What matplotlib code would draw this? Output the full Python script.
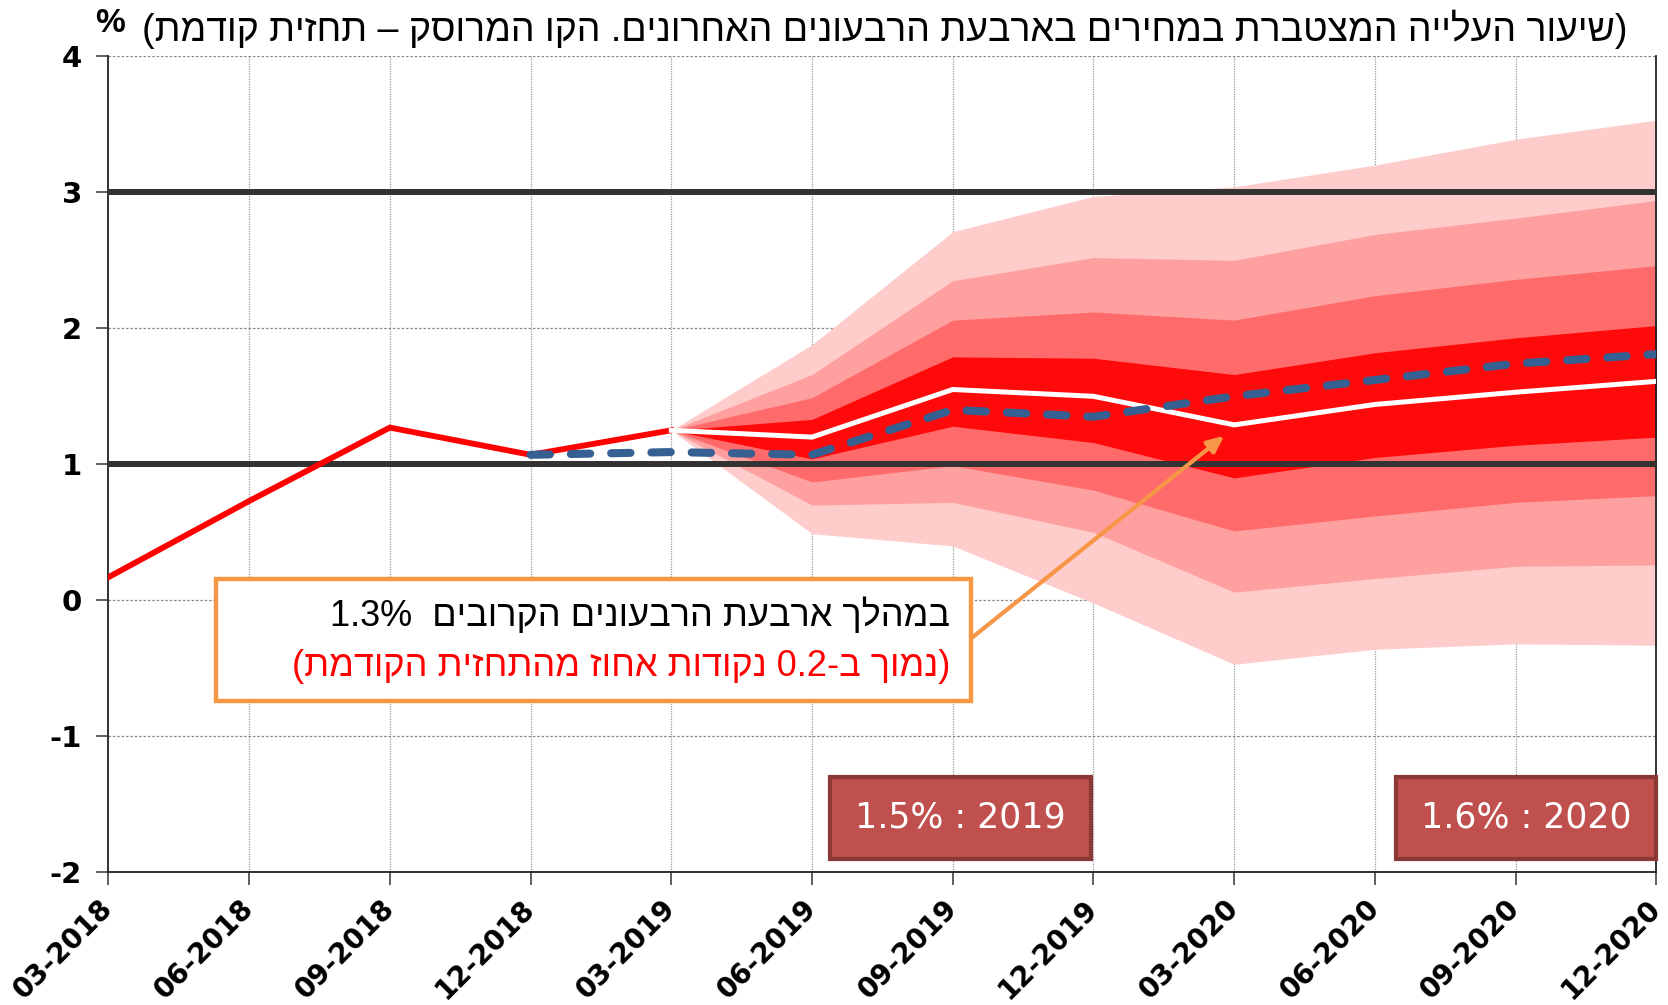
import re
import matplotlib
matplotlib.use("Agg")
import matplotlib.pyplot as plt
from matplotlib.patches import Rectangle

plt.rcParams["font.family"] = ["Liberation Sans", "DejaVu Sans"]

# ---------------------------------------------------------------------------
# data
# ---------------------------------------------------------------------------
quarters = ["03-2018", "06-2018", "09-2018", "12-2018", "03-2019", "06-2019",
            "09-2019", "12-2019", "03-2020", "06-2020", "09-2020", "12-2020"]

actual = [0.17, 0.73, 1.27, 1.07, 1.25]                             # 03-2018 .. 03-2019
forecast = [1.25, 1.20, 1.55, 1.50, 1.29, 1.44, 1.53, 1.61]         # 03-2019 .. 12-2020
previous = [1.07, 1.09, 1.07, 1.40, 1.35, 1.50, 1.62, 1.74, 1.81]  # 12-2018 .. 12-2020

# fan bands, 03-2019 .. 12-2020 (outer -> inner)
outer_up = [1.25, 1.88, 2.71, 2.97, 3.04, 3.20, 3.39, 3.53]
outer_lo = [1.25, 0.49, 0.40, -0.02, -0.47, -0.36, -0.32, -0.33]
mid_up = [1.25, 1.66, 2.35, 2.52, 2.50, 2.69, 2.81, 2.94]
mid_lo = [1.25, 0.70, 0.72, 0.50, 0.06, 0.16, 0.25, 0.26]
third_up = [1.25, 1.49, 2.06, 2.12, 2.06, 2.24, 2.36, 2.46]
third_lo = [1.25, 0.87, 0.99, 0.81, 0.51, 0.62, 0.72, 0.77]
inner_up = [1.25, 1.33, 1.79, 1.78, 1.66, 1.82, 1.93, 2.02]
inner_lo = [1.25, 1.04, 1.28, 1.16, 0.90, 1.05, 1.14, 1.20]

target_lines = [1, 3]
yticks = [-2, -1, 0, 1, 2, 3, 4]

title = "(שיעור העלייה המצטברת במחירים בארבעת הרבעונים האחרונים. הקו המרוסק – תחזית קודמת)"
note1 = "במהלך ארבעת הרבעונים הקרובים  1.3%"
note2 = "(נמוך ב-0.2 נקודות אחוז מהתחזית הקודמת)"
box_labels = ["1.5% : 2019", "1.6% : 2020"]


def rtl(s):
    # crude visual ordering for hebrew: reverse, keep number runs, mirror parens
    r = s[::-1]
    r = re.sub(r"[0-9.%]+", lambda m: m.group(0)[::-1] if any(c.isdigit() for c in m.group(0)) else m.group(0), r)
    return r.translate(str.maketrans("()", ")("))


x_all = list(range(len(quarters)))
x_act = x_all[:5]
x_fc = x_all[4:]
x_prev = x_all[3:]

# ---------------------------------------------------------------------------
# plot
# ---------------------------------------------------------------------------
fig = plt.figure(figsize=(16.68, 10.05), dpi=100)
ax = fig.add_axes([0.065, 0.132, 0.928, 0.812])

ax.set_xlim(0, 11)
ax.set_ylim(-2, 4)

for x in x_all[1:]:
    ax.axvline(x, color="#999999", lw=0.9, ls=(0, (1, 1)), zorder=0)
for y in yticks:
    if y not in target_lines:
        ax.axhline(y, color="#888888", lw=0.9, ls=(0, (2, 1.5)), zorder=0)

ax.fill_between(x_fc, outer_lo, outer_up, color="#FFCCCC", lw=0, zorder=1)
ax.fill_between(x_fc, mid_lo, mid_up, color="#FFA0A0", lw=0, zorder=1)
ax.fill_between(x_fc, third_lo, third_up, color="#FF6B6B", lw=0, zorder=1)
ax.fill_between(x_fc, inner_lo, inner_up, color="#FF0A0A", lw=0, zorder=1)

for y in target_lines:
    ax.axhline(y, color="#333333", lw=4.3, zorder=3)

ax.plot(x_act, actual, color="#FF0000", lw=4.2, zorder=4, solid_joinstyle="miter")
ax.plot(x_fc, forecast, color="white", lw=3.6, zorder=5, solid_joinstyle="miter")
ax.plot(x_prev, previous, color="#366092", lw=5.8, ls=(0, (2.4, 2.6)),
        dash_capstyle="round", zorder=6)

ax.set_xticks(x_all)
ax.set_xticklabels(quarters, rotation=45, ha="right", va="center", rotation_mode="anchor",
                   fontsize=20, fontweight="bold", family="DejaVu Sans")
ax.set_yticks(yticks)
ax.set_yticklabels([str(v) for v in yticks], fontsize=21, fontweight="bold",
                   family="DejaVu Sans")
ax.tick_params(axis="both", direction="out", length=9, width=1.2, color="#444444")
ax.tick_params(axis="x", pad=14)
ax.tick_params(axis="y", pad=10)

ax.spines["top"].set_visible(False)
for s in ["left", "bottom", "right"]:
    ax.spines[s].set_color("#222222")
    ax.spines[s].set_linewidth(1.3)

# titles
fig.text(0.976, 0.971, rtl(title), ha="right", va="center", fontsize=27)
fig.text(0.066, 0.977, "%", ha="center", va="center", fontsize=24, fontweight="bold")

# annotation box
ax.add_patch(Rectangle((0.763, -0.742), 6.13 - 0.763, 0.156 + 0.742, facecolor="white",
                       edgecolor="#F79646", lw=3.2, zorder=7))
ax.text(5.98, -0.11, rtl(note1), ha="right", va="center", fontsize=26, color="black", zorder=8)
ax.text(5.98, -0.49, rtl(note2), ha="right", va="center", fontsize=26, color="#FF0000", zorder=8)
ax.annotate("", xy=(7.93, 1.21), xytext=(6.13, -0.28),
            arrowprops=dict(arrowstyle="-|>,head_length=1.0,head_width=0.45",
                            color="#F79646", lw=3.0, shrinkA=0, shrinkB=0), zorder=7)

# year boxes
for (x0, x1), label in zip([(5.125, 6.98), (9.15, 11.0)], box_labels):
    ax.add_patch(Rectangle((x0, -1.90), x1 - x0, 0.60, facecolor="#C0504D",
                           edgecolor="#8C3836", lw=3, zorder=7, clip_on=False))
    ax.text((x0 + x1) / 2, -1.60, label, ha="center", va="center", fontsize=25,
            color="white", family="DejaVu Sans", zorder=8)

fig.savefig("out.png", dpi=100)
